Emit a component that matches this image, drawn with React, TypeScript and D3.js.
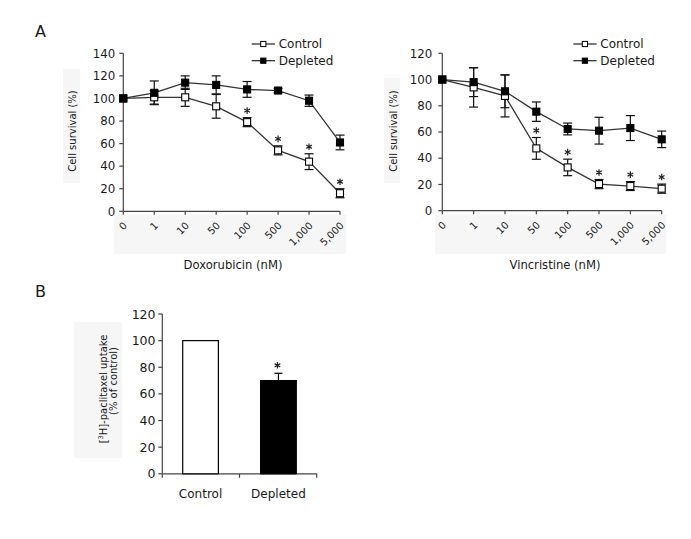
import React from "react";
import * as d3 from "d3";

const doseLabels = ["0", "1", "10", "50", "100", "500", "1,000", "5,000"];

const doxControl = [100, 101, 101, 93, 79, 54, 44, 16];
const doxControlErr = [0, 6, 8, 10.5, 4, 4, 7, 4];
const doxDepleted = [100, 105, 114, 112, 108, 107, 98, 61];
const doxDepletedErr = [0, 10.5, 6, 8, 7, 2, 5, 6.5];
const doxSig = [false, false, false, false, true, true, true, true];

const vinControl = [100, 94, 87.5, 47.5, 33, 20.3, 18.8, 16.8];
const vinControlErr = [0, 15, 16, 8.3, 6.3, 3.5, 3.4, 3.5];
const vinDepleted = [100, 98, 91, 75.5, 62.3, 61, 63, 54.4];
const vinDepletedErr = [0, 11, 12.5, 7.4, 4.5, 10.2, 9.5, 6.3];
const vinSig = [false, false, false, true, true, true, true, true];

const uptakeCategories = ["Control", "Depleted"];
const uptakeValues = [100, 70];
const uptakeErr = [0, 5.5];
const uptakeSig = [false, true];

const seriesNames = ["Control", "Depleted"];

const FONT = "DejaVu Sans, sans-serif";
const AX = "#444";
const TXT = "#1a1a1a";
const BOX = "#f6f6f6";

const starPath = d3.symbol(d3.symbolAsterisk, 30)() || "";

function Star({ x, y }: { x: number; y: number }) {
  return <path d={starPath} transform={`translate(${x},${y})`} fill="none" stroke="#222" strokeWidth={1.2} />;
}

type PanelProps = {
  x0: number; x1: number; y0: number; yTop: number; yMax: number;
  control: number[]; controlErr: number[]; depleted: number[]; depletedErr: number[];
  sig: boolean[]; title: string; titleX: number; yTitleX: number; legendX: number;
  labelGap: number; tickBox: [number, number, number, number]; yBox: [number, number, number, number];
};

function LinePanel(p: PanelProps) {
  const x = d3.scalePoint<string>().domain(doseLabels).range([p.x0, p.x1]);
  const y = d3.scaleLinear().domain([0, p.yMax]).range([p.y0, p.yTop]);
  const yTicks = d3.range(0, p.yMax + 1, 20);
  const line = d3.line<number>().x((_, i) => x(doseLabels[i]) as number).y((d) => y(d));
  const ms = 7;
  const cap = 4.5;

  const errBars = (vals: number[], errs: number[], key: string) =>
    vals.map((v, i) => {
      const e = errs[i];
      if (!e) return null;
      const cx = x(doseLabels[i]) as number;
      return (
        <g key={key + i} stroke="#111" strokeWidth={1.2}>
          <line x1={cx} x2={cx} y1={y(v - e)} y2={y(v + e)} />
          <line x1={cx - cap} x2={cx + cap} y1={y(v - e)} y2={y(v - e)} />
          <line x1={cx - cap} x2={cx + cap} y1={y(v + e)} y2={y(v + e)} />
        </g>
      );
    });

  const markers = (vals: number[], filled: boolean, key: string) =>
    vals.map((v, i) => {
      const cx = x(doseLabels[i]) as number;
      return (
        <rect key={key + i} x={cx - ms / 2} y={y(v) - ms / 2} width={ms} height={ms}
          fill={filled ? "#000" : "#fff"} stroke="#000" strokeWidth={1.1} />
      );
    });

  const legendY = [44, 60.7];

  return (
    <g>
      <rect x={p.tickBox[0]} y={p.tickBox[1]} width={p.tickBox[2]} height={p.tickBox[3]} fill={BOX} />
      <rect x={p.yBox[0]} y={p.yBox[1]} width={p.yBox[2]} height={p.yBox[3]} fill={BOX} />
      <line x1={p.x0} x2={p.x0} y1={y(0)} y2={y(p.yMax)} stroke={AX} strokeWidth={1.2} />
      {yTicks.map((t) => (
        <g key={"yt" + t}>
          <line x1={p.x0 - 4} x2={p.x0} y1={y(t)} y2={y(t)} stroke={AX} strokeWidth={1.2} />
          <text x={p.x0 - p.labelGap} y={y(t)} dy="0.36em" textAnchor="end" fontSize={11.8} fill={TXT} fontFamily={FONT}>{t}</text>
        </g>
      ))}
      <line x1={p.x0} x2={p.x1} y1={y(0)} y2={y(0)} stroke={AX} strokeWidth={1.2} />
      {doseLabels.map((d) => {
        const cx = x(d) as number;
        return (
          <g key={"xt" + d}>
            <line x1={cx} x2={cx} y1={y(0)} y2={y(0) + 3.5} stroke={AX} strokeWidth={1.2} />
            <text transform={`translate(${cx + 4.5},${y(0) + 15}) rotate(-45)`} textAnchor="end" fontSize={10} fill={TXT} fontFamily={FONT}>{d}</text>
          </g>
        );
      })}
      <text x={p.titleX} y={269} textAnchor="middle" fontSize={11.6} fill={TXT} fontFamily={FONT}>{p.title}</text>
      <text transform={`translate(${p.yTitleX},131) rotate(-90)`} dy="0.36em" textAnchor="middle" fontSize={10} fill={TXT} fontFamily={FONT}>Cell survival (%)</text>
      <path d={line(p.control) || ""} fill="none" stroke="#333" strokeWidth={1.3} />
      <path d={line(p.depleted) || ""} fill="none" stroke="#333" strokeWidth={1.3} />
      {errBars(p.control, p.controlErr, "ce")}
      {errBars(p.depleted, p.depletedErr, "de")}
      {markers(p.control, false, "cm")}
      {markers(p.depleted, true, "dm")}
      {p.sig.map((s, i) =>
        s ? <Star key={"s" + i} x={x(doseLabels[i]) as number} y={y(p.control[i] + p.controlErr[i]) - 7} /> : null
      )}
      {seriesNames.map((n, i) => (
        <g key={"lg" + n}>
          <line x1={p.legendX} x2={p.legendX + 23.3} y1={legendY[i]} y2={legendY[i]} stroke="#222" strokeWidth={1.2} />
          <rect x={p.legendX + 11.6 - 2.6} y={legendY[i] - 2.6} width={5.2} height={5.2} fill={i === 0 ? "#fff" : "#000"} stroke="#000" strokeWidth={1} />
          <text x={p.legendX + 27} y={legendY[i]} dy="0.36em" fontSize={12} fill={TXT} fontFamily={FONT}>{n}</text>
        </g>
      ))}
    </g>
  );
}

function BarPanel() {
  const x = d3.scaleBand<string>().domain(uptakeCategories).range([162.3, 316.7]).paddingInner(0.542).paddingOuter(0.262);
  const y = d3.scaleLinear().domain([0, 120]).range([473.8, 314]);
  const yTicks = d3.range(0, 121, 20);
  const bw = x.bandwidth();
  const cap = 4;
  return (
    <g>
      <rect x={74} y={322} width={48} height={136} fill={BOX} />
      <line x1={162.3} x2={162.3} y1={y(0)} y2={y(120)} stroke={AX} strokeWidth={1.2} />
      {yTicks.map((t) => (
        <g key={"byt" + t}>
          <line x1={158.3} x2={162.3} y1={y(t)} y2={y(t)} stroke={AX} strokeWidth={1.2} />
          <text x={155.5} y={y(t)} dy="0.36em" textAnchor="end" fontSize={12.5} fill={TXT} fontFamily={FONT}>{t}</text>
        </g>
      ))}
      <line x1={162.3} x2={316.7} y1={y(0)} y2={y(0)} stroke={AX} strokeWidth={1.2} />
      {[162.3, 239.5, 316.7].map((t) => (
        <line key={"bxt" + t} x1={t} x2={t} y1={y(0)} y2={y(0) + 4} stroke={AX} strokeWidth={1.2} />
      ))}
      {uptakeCategories.map((c, i) => {
        const bx = x(c) as number;
        const v = uptakeValues[i];
        const e = uptakeErr[i];
        const cx = bx + bw / 2;
        return (
          <g key={"bar" + c}>
            <rect x={bx} y={y(v)} width={bw} height={y(0) - y(v)} fill={i === 0 ? "#fff" : "#000"} stroke="#000" strokeWidth={1.2} />
            {e ? (
              <g stroke="#000" strokeWidth={1.2}>
                <line x1={cx} x2={cx} y1={y(v)} y2={y(v + e)} />
                <line x1={cx - cap} x2={cx + cap} y1={y(v + e)} y2={y(v + e)} />
              </g>
            ) : null}
            {uptakeSig[i] ? <Star x={cx - 1} y={y(v + e) - 8} /> : null}
            <text x={cx} y={498} textAnchor="middle" fontSize={12} fill={TXT} fontFamily={FONT}>{c}</text>
          </g>
        );
      })}
      <text transform="translate(103,389) rotate(-90)" dy="0.36em" textAnchor="middle" fontSize={10} fill={TXT} fontFamily={FONT}>
        [<tspan baselineShift="super" fontSize={6.5}>3</tspan>H]-paclitaxel uptake
      </text>
      <text transform="translate(113,381) rotate(-90)" dy="0.36em" textAnchor="middle" fontSize={10} fill={TXT} fontFamily={FONT}>(% of control)</text>
    </g>
  );
}

export default function App() {
  return (
    <svg width={691} height={539} style={{ position: "absolute", left: 0, top: 0, background: "#fff" }}>
      <rect x={0} y={0} width={691} height={539} fill="#fff" />
      <text x={35} y={37} fontSize={16} fill={TXT} fontFamily={FONT}>A</text>
      <text x={35} y={297} fontSize={16} fill={TXT} fontFamily={FONT}>B</text>
      <LinePanel x0={123.3} x1={340} y0={211.3} yTop={53.3} yMax={140}
        control={doxControl} controlErr={doxControlErr} depleted={doxDepleted} depletedErr={doxDepletedErr}
        sig={doxSig} title="Doxorubicin (nM)" titleX={233} yTitleX={72} legendX={251.7} labelGap={8}
        tickBox={[114, 215, 232, 39]} yBox={[63, 69, 17, 114]} />
      <LinePanel x0={442.3} x1={661.7} y0={210.7} yTop={53.3} yMax={120}
        control={vinControl} controlErr={vinControlErr} depleted={vinDepleted} depletedErr={vinDepletedErr}
        sig={vinSig} title="Vincristine (nM)" titleX={555} yTitleX={393} legendX={573.3} labelGap={10}
        tickBox={[435, 215, 231, 39]} yBox={[384, 78, 16, 105]} />
      <BarPanel />
    </svg>
  );
}
